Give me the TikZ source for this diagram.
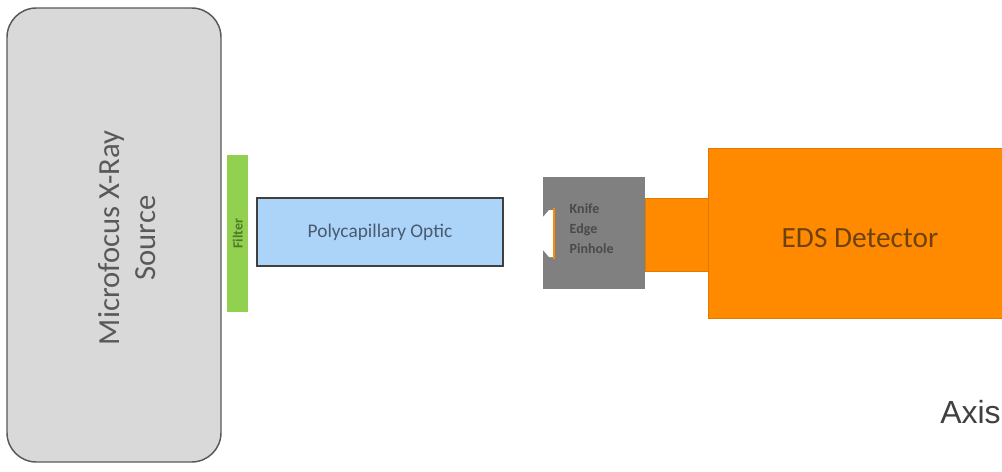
\documentclass[tikz,border=0pt]{standalone}
\usepackage{fontspec}
\setmainfont{Carlito}
\newfontfamily\axisfont{Liberation Sans}
\definecolor{srcfill}{HTML}{D9D9D9}
\definecolor{srcdraw}{HTML}{595959}
\definecolor{filtgreen}{HTML}{92D050}
\definecolor{filttext}{HTML}{4F7A28}
\definecolor{optfill}{HTML}{ABD4F8}
\definecolor{opttext}{HTML}{4A5A70}
\definecolor{knifegray}{HTML}{808080}
\definecolor{knifetext}{HTML}{4A4A4A}
\definecolor{orangefill}{HTML}{FF8A00}
\definecolor{orangedraw}{HTML}{E07A00}
\definecolor{edstext}{HTML}{6E4210}
\definecolor{axistext}{HTML}{404040}
\tikzset{
  boxstyle/.style={draw, line width=1.1pt, inner sep=0pt, outer sep=0pt},
}
\begin{document}
\begin{tikzpicture}[x=0.75pt, y=-0.75pt]
\useasboundingbox (0,0) rectangle (1002,471);
\clip (0,0) rectangle (1002,471);
% source
\node[boxstyle, draw=srcdraw, fill=srcfill, rounded corners=22pt, minimum width=214*0.75pt, minimum height=454*0.75pt, anchor=north west] (src) at (7,8) {};
\node[rotate=90, text=srcdraw, align=center, font=\fontsize{23}{27}\selectfont] (srct) at (127,238) {Microfocus X-Ray\\Source};
% filter
\node[fill=filtgreen, minimum width=21*0.75pt, minimum height=157*0.75pt, inner sep=0pt, anchor=north west] (filt) at (227,155) {};
\node[rotate=90, text=filttext, font=\fontsize{10.5}{11}\selectfont\bfseries] (filtt) at (filt.center) {Filter};
% optic
\node[boxstyle, draw=black!75, fill=optfill, line width=1.3pt, minimum width=246*0.75pt, minimum height=68*0.75pt, anchor=north west] (opt) at (257,198) {};
\node[text=opttext, font=\fontsize{14.5}{16}\selectfont] (optt) at (opt.center) {Polycapillary Optic};
% knife edge pinhole
\node[fill=knifegray, minimum width=102*0.75pt, minimum height=112*0.75pt, inner sep=0pt, anchor=north west] (knife) at (543,177) {};
\fill[white] (543,217) -- (549,210) -- (553,210) -- (553,257) -- (549,257) -- (543,250) -- cycle;
\draw[orangefill, line width=2pt] (554,208) -- (554,259);
\node[text=knifetext, align=left, anchor=west, font=\fontsize{10.5}{15}\selectfont\bfseries] (knifet) at (565,229) {Knife\\Edge\\Pinhole};
% orange connector
\node[fill=orangefill, draw=orangedraw, line width=0.8pt, minimum width=64*0.75pt, minimum height=73*0.75pt, inner sep=0pt, anchor=north west] (conn) at (645,198) {};
% EDS detector
\node[fill=orangefill, draw=orangedraw, line width=1pt, minimum width=320*0.75pt, minimum height=170*0.75pt, inner sep=0pt, anchor=north west] (eds) at (708,148) {};
\node[text=edstext, font=\fontsize{22}{26}\selectfont] (edst) at (860,238) {EDS Detector};
% axis
\node[text=axistext, anchor=base west, inner sep=0pt, font=\axisfont\fontsize{24}{28}\selectfont] (axis) at (940,423) {Axis};
\end{tikzpicture}
\end{document}
